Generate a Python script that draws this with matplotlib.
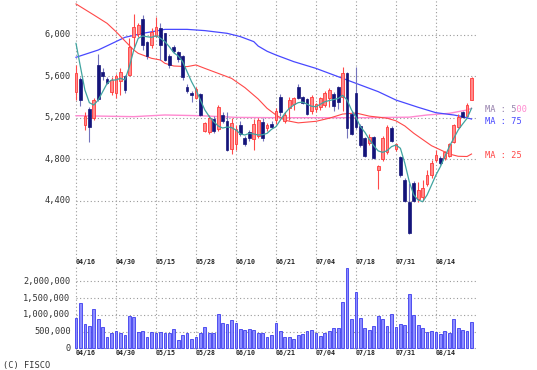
import matplotlib
matplotlib.use("Agg")
import matplotlib.pyplot as plt
import numpy as np

# ---- data (bar index 0 = 04/16) ----
dates = ['04/16', '04/30', '05/15', '05/28', '06/10', '06/21', '07/04', '07/18', '07/31', '08/14']
date_idx = [0, 9, 18, 27, 36, 45, 54, 63, 72, 81]

opens = [5450, 5570, 5130, 5285, 5200, 5710, 5640, 5575, 5450, 5440,
         5550, 5600, 5610, 5980, 6010, 6155, 5930, 5900, 5990, 6060,
         6015, 5790, 5880, 5830, 5790, 5500, 5435, 5390, 5430, 5070,
         5060, 5190, 5090, 5230, 5170, 4900, 4950, 5130, 5000, 5060,
         4990, 5020, 5160, 5100, 5140, 5180, 5400, 5170, 5290, 5330,
         5500, 5400, 5380, 5260, 5280, 5300, 5320, 5390, 5430, 5500,
         5400, 5630, 5240, 5440, 5120, 5000, 4960, 5010, 4700, 4800,
         4870, 5100, 4900, 4820, 4600, 4390, 4570, 4420, 4440, 4560,
         4650, 4790, 4810, 4810, 4830, 4970, 5110, 5250, 5220, 5370]
highs = [5710, 5590, 5250, 5300, 5390, 5810, 5680, 5590, 5590, 5620,
         5680, 5610, 5965, 6200, 6110, 6190, 5940, 6060, 6170, 6110,
         6020, 5810, 5900, 5840, 5800, 5525, 5460, 5500, 5440, 5160,
         5230, 5220, 5320, 5250, 5250, 5200, 5130, 5170, 5020, 5080,
         5190, 5200, 5200, 5150, 5170, 5290, 5430, 5250, 5400, 5400,
         5520, 5410, 5390, 5420, 5340, 5400, 5460, 5490, 5450, 5510,
         5690, 5640, 5260, 5690, 5140, 5010, 5040, 5020, 4745, 5020,
         5130, 5120, 4960, 4830, 4620, 4570, 4590, 4580, 4600, 4700,
         4790, 4890, 4830, 4880, 4960, 5140, 5240, 5260, 5340, 5590]
lows = [5370, 5310, 5080, 4970, 5180, 5360, 5560, 5520, 5420, 5390,
        5420, 5440, 5600, 5880, 5980, 5850, 5770, 5870, 5980, 5755,
        5750, 5680, 5820, 5740, 5560, 5440, 5350, 5380, 5220, 5060,
        5040, 5050, 5070, 5150, 4880, 4850, 4890, 5020, 4930, 4980,
        4890, 5000, 4980, 5070, 5100, 5140, 5220, 5150, 5180, 5270,
        5380, 5330, 5230, 5240, 5250, 5270, 5300, 5300, 5260, 5280,
        5260, 5000, 5030, 5090, 4920, 4820, 4940, 4800, 4510, 4780,
        4850, 4970, 4880, 4630, 4390, 4080, 4390, 4390, 4400, 4540,
        4620, 4770, 4740, 4790, 4820, 4960, 5100, 5200, 5210, 5370]
closes = [5630, 5370, 5220, 5110, 5370, 5380, 5600, 5535, 5560, 5600,
          5640, 5470, 5880, 6075, 6090, 5900, 5790, 6030, 6070, 5900,
          5760, 5710, 5840, 5770, 5590, 5460, 5420, 5480, 5230, 5150,
          5200, 5070, 5300, 5170, 4890, 5150, 5090, 5040, 4950, 5000,
          5140, 5180, 5000, 5130, 5110, 5260, 5250, 5230, 5370, 5390,
          5390, 5340, 5240, 5400, 5330, 5390, 5440, 5470, 5310, 5350,
          5630, 5100, 5040, 5110, 4940, 4830, 5010, 4810, 4735, 5000,
          5110, 4980, 4950, 4650, 4400, 4090, 4400, 4500, 4520, 4650,
          4760, 4840, 4760, 4870, 4950, 5130, 5210, 5210, 5320, 5580]

volume_m = [0.91, 1.37, 0.74, 0.67, 1.17, 0.87, 0.64, 0.34, 0.45, 0.51,
            0.47, 0.39, 0.97, 0.94, 0.49, 0.51, 0.34, 0.49, 0.47, 0.50,
            0.45, 0.47, 0.59, 0.24, 0.39, 0.46, 0.27, 0.33, 0.45, 0.65,
            0.45, 0.47, 1.04, 0.77, 0.72, 0.84, 0.75, 0.57, 0.54, 0.59,
            0.54, 0.47, 0.47, 0.34, 0.40, 0.77, 0.51, 0.34, 0.34, 0.27,
            0.40, 0.42, 0.51, 0.54, 0.47, 0.37, 0.47, 0.52, 0.60, 0.62,
            1.39, 2.39, 0.87, 1.69, 0.92, 0.62, 0.54, 0.67, 0.97, 0.87,
            0.67, 1.04, 0.64, 0.74, 0.70, 1.62, 1.00, 0.69, 0.62, 0.49,
            0.51, 0.49, 0.42, 0.51, 0.45, 0.89, 0.62, 0.54, 0.51, 0.79]

ma5 = [5916, 5690, 5467, 5345, 5322, 5370, 5450, 5530, 5563, 5563,
       5580, 5563, 5690, 5852, 5965, 5987, 5980, 5974, 5990, 5965,
       5933, 5884, 5826, 5794, 5740, 5643, 5547, 5467, 5370, 5274,
       5210, 5161, 5120, 5100, 5110, 5105, 5081, 5043, 5033, 5049,
       5043, 5033, 5036, 5049, 5088, 5113, 5178, 5242, 5290, 5322,
       5345, 5350, 5330, 5310, 5306, 5330, 5354, 5365, 5375, 5385,
       5415, 5370, 5274, 5205, 5113, 5060, 4990, 4930, 4880, 4866,
       4882, 4921, 4937, 4905, 4760, 4583, 4455, 4407, 4390, 4455,
       4551, 4648, 4728, 4824, 4921, 5001, 5081, 5139, 5194, 5290]

ma25_x = [0, 4, 7, 9, 11, 13, 14, 17, 19, 20, 22, 25, 27, 29, 32, 35, 38, 41, 43,
          45, 47, 50, 54, 57, 60, 63, 66, 70, 72, 74, 76, 78, 80, 82, 84, 86, 88, 89]
ma25_y = [6296, 6190, 6109, 6029, 5940, 5852, 5820, 5772, 5756, 5724, 5698, 5692, 5708,
          5675, 5627, 5579, 5490, 5380, 5290, 5226, 5175, 5150, 5165, 5195, 5235, 5245,
          5215, 5195, 5170, 5120, 5050, 4990, 4930, 4890, 4850, 4828, 4826, 4850]

ma75_x = [0, 5, 11, 15, 18, 20, 25, 29, 34, 37, 40, 41, 43, 45, 49, 54, 58, 63, 68,
          72, 77, 81, 85, 87, 89]
ma75_y = [5782, 5852, 5974, 6013, 6035, 6051, 6051, 6039, 6013, 5981, 5933, 5890, 5840,
          5804, 5740, 5675, 5611, 5531, 5451, 5370, 5300, 5248, 5226, 5210, 5187]

ma500_x = [0, 13, 20, 28, 36, 45, 55, 65, 75, 79, 84, 88, 89]
ma500_y = [5219, 5210, 5226, 5219, 5203, 5200, 5200, 5200, 5205, 5226, 5242, 5274, 5290]

price_ticks = [6000, 5600, 5200, 4800, 4400]
vol_ticks = [0, 500000, 1000000, 1500000, 2000000]
vol_labels = ['0', '500,000', '1,000,000', '1,500,000', '2,000,000']

# ---- figure ----
W, H = 537, 370
fig = plt.figure(figsize=(W / 100, H / 100), dpi=100)
fig.patch.set_facecolor('white')

x0 = (70 - 76) / 4.444
x1 = (480 - 76) / 4.444

ax = fig.add_axes([70 / W, 1 - 250 / H, 410 / W, 250 / H])
ax.set_xlim(x0, x1)
ax.set_ylim(3925, 6334)
ax.axis('off')

axv = fig.add_axes([70 / W, 1 - 350 / H, 410 / W, 85 / H])
axv.set_xlim(x0, x1)
axv.set_ylim(-50900, 2494000)
axv.axis('off')

grid_kw = dict(color='#9a9a9a', lw=0.8, linestyle=(0, (1, 2.2)), zorder=1)
n = len(closes)
last = n  # grid runs to the right edge of the plot area

# price grid
for p in price_ticks:
    ax.plot([0, last], [p, p], **grid_kw)
    ax.text(-1.2, p, f'{p:,}', ha='right', va='center', fontsize=6.2,
            family='DejaVu Sans Mono', color='#333333')
ax.vlines(date_idx, 3850, 6334, clip_on=False, **grid_kw)

# volume grid
for v, lab in zip(vol_ticks, vol_labels):
    axv.plot([0, last], [v, v], **grid_kw)
    axv.text(-1.2, v, lab, ha='right', va='center', fontsize=6.2,
             family='DejaVu Sans Mono', color='#333333')
axv.vlines(date_idx, -50900, 2430000, clip_on=False, **grid_kw)

# moving averages
ax.plot(ma500_x, ma500_y, color='#ff88d0', lw=1.0, zorder=2)
ax.plot(ma75_x, ma75_y, color='#4848ff', lw=0.9, zorder=2)
ax.plot(ma25_x, ma25_y, color='#ff4848', lw=0.8, zorder=2)

# candles
idx = np.arange(n)
for i in idx:
    o, h, l, c = opens[i], highs[i], lows[i], closes[i]
    if c >= o:
        ax.vlines(i, l, h, color='#ff4a4a', lw=0.8, zorder=3)
        ax.bar(i, c - o, bottom=o, width=0.62, color='#ff8a8a',
               edgecolor='#ff3a3a', lw=0.6, zorder=4)
    else:
        ax.vlines(i, l, h, color='#7474bc', lw=0.8, zorder=3)
        ax.bar(i, o - c, bottom=c, width=0.62, color='#14147a',
               edgecolor='#14147a', lw=0.5, zorder=4)

ax.plot(idx, ma5, color='#40a4a0', lw=0.9, zorder=5)

# volume bars
vol = np.array(volume_m) * 1e6
axv.bar(idx, vol, width=0.62, color='#8c8cff', edgecolor='#3c3cee', lw=0.6, zorder=3)

# date labels (top and bottom of the volume pane)
for k, d in zip(date_idx, dates):
    px = 76 + 4.444 * k
    for py in (262, 353.5):
        fig.text(px / W, 1 - py / H, d, ha='left', va='center', fontsize=4.8,
                 family='DejaVu Sans Mono', weight='bold', color='#222222')

# MA legend labels
lab_kw = dict(ha='left', va='center', fontsize=6.2, family='DejaVu Sans Mono')
fig.text(485 / W, 1 - 110 / H, 'MA : 500', color='#ff88d0', **lab_kw)
fig.text(485 / W, 1 - 110 / H, 'MA : 5', color='#40a4a0', alpha=0.55, **lab_kw)
fig.text(485 / W, 1 - 121.7 / H, 'MA : 75', color='#4848ff', **lab_kw)
fig.text(485 / W, 1 - 155.7 / H, 'MA : 25', color='#ff4848', **lab_kw)

fig.text(3 / W, 1 - 365.5 / H, '(C) FISCO', ha='left', va='center', fontsize=6.2,
         family='DejaVu Sans Mono', color='#333333')

fig.savefig('out.png', dpi=100, facecolor='white')
